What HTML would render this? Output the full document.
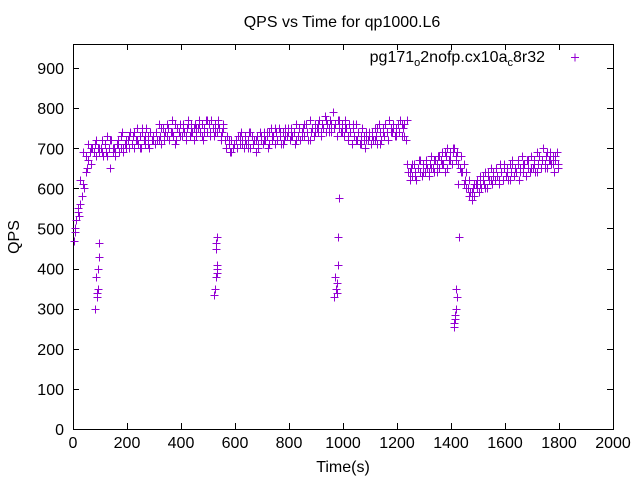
<!DOCTYPE html>
<html><head><meta charset="utf-8"><style>
html,body{margin:0;padding:0;background:#fff;}
svg{display:block;font-family:"Liberation Sans",sans-serif;}
</style></head><body>
<svg id="chart" width="640" height="480" viewBox="0 0 640 480">
<text x="342" y="27" font-size="16" text-anchor="middle">QPS vs Time for qp1000.L6</text>
<rect x="73.5" y="44.5" width="540" height="385" fill="none" stroke="#000" stroke-width="1"/>
<g id="ticks"></g>
<g id="points"></g>
<text transform="translate(19,237) rotate(-90)" font-size="16" text-anchor="middle">QPS</text>
<text x="343" y="472" font-size="16" text-anchor="middle">Time(s)</text>
<g>
<text x="545" y="62" font-size="16" text-anchor="end">pg171<tspan font-size="11" dy="4">o</tspan><tspan dy="-4">2nofp.cx10a</tspan><tspan font-size="11" dy="4">c</tspan><tspan dy="-4">8r32</tspan></text>
<path d="M571,57.5h8M575,53.5v8" stroke="#9400d3" stroke-width="1"/>
</g>
</svg>
<script>
const xTicks=[0,200,400,600,800,1000,1200,1400,1600,1800,2000];
const yTicks=[0,100,200,300,400,500,600,700,800,900];
const bandValues=[
470,500,520,540,530,560,580,610,600,640,
650,670,690,660,700,690,710,680,700,690,
700,720,680,710,690,730,700,650,720,690,
700,680,710,720,690,700,740,690,710,700,
720,700,740,710,730,700,720,750,710,730,
700,740,720,710,750,730,700,740,720,730,
710,740,720,760,730,710,750,720,740,730,
750,720,740,770,730,760,720,750,740,760,
730,760,740,720,750,770,730,760,740,750,
760,730,750,770,740,760,720,750,770,740,
760,740,770,750,730,760,740,770,750,730,
740,760,720,700,730,710,690,720,700,710,
720,700,730,710,740,720,700,730,710,720,
740,700,730,710,720,690,730,710,740,720,
710,740,720,730,700,740,750,720,730,710,
740,720,750,730,710,740,720,750,730,740,
720,750,730,740,710,760,730,750,720,740,
750,730,760,740,720,770,740,750,730,760,
750,740,770,730,760,750,780,740,760,750,
770,740,790,750,760,730,770,750,740,760,
730,770,750,720,760,740,710,750,730,760,
720,740,710,730,750,720,700,740,720,730,
710,740,720,750,730,710,760,740,720,750,
730,760,740,720,770,750,740,760,730,750,
760,740,770,730,750,760,720,660,640,620,
650,630,660,640,620,650,670,640,630,660,
640,670,650,630,660,680,650,640,670,660,
680,650,670,690,660,640,680,700,670,690,
660,690,700,670,690,610,650,680,640,660,
620,640,600,580,590,570,600,580,610,620,
590,630,600,620,610,640,600,630,620,650,
610,640,620,650,630,610,660,640,620,650,
630,650,620,660,640,670,630,650,640,660,
620,650,680,640,660,630,670,650,640,680,
650,670,640,690,660,680,650,670,700,660,
680,650,670,690,660,680,640,670,690,660];
const band2Values=[
490,550,620,690,680,710,700,690,720,700,
690,710,680,720,700,690,710,730,700,720,
730,710,740,720,700,750,730,710,740,720,
740,720,750,730,760,720,740,710,750,730,
750,730,760,740,720,750,760,730,740,770,
730,750,740,760,720,750,700,720,690,710,
700,730,710,720,700,740,710,720,700,730,
720,740,710,730,750,720,740,710,730,750,
730,740,720,750,730,760,740,720,750,740,
760,740,750,770,740,760,750,730,770,740,
750,730,740,760,720,740,710,730,720,740,
730,720,750,710,740,760,720,740,750,730,
740,760,730,770,640,660,630,650,670,640,
660,640,650,670,640,680,660,690,650,670,
700,680,660,640,610,600,620,590,610,600,
610,630,600,640,620,630,650,620,640,660,
640,620,660,650,670,640,660,630,670,650,
660,640,680,670,650,690,670,660,680,650];
const outlierTimes=[82,85,88,90,92,94,96,98,524,526,528,530,531,532,533,534,535,968,972,974,976,978,980,982,984,1410,1412,1414,1416,1418,1420,1424,1428];
const outlierValues=[300,380,340,330,350,400,430,465,335,350,465,450,380,390,400,410,480,330,380,350,340,365,410,480,575,255,265,275,285,300,350,330,480];
const X0=73,X1=613,Y0=429,Y1=44;
const xs=v=>X0+(v/2000)*(X1-X0);
const ys=v=>Y0-(v/960)*(Y0-Y1);
const NS="http://www.w3.org/2000/svg";
const tg=document.getElementById('ticks');
xTicks.forEach(t=>{
 const x=Math.round(xs(t))+0.5;
 const p=document.createElementNS(NS,'path');
 p.setAttribute('d',`M${x},${Y0}v-6M${x},${Y1}v6`);p.setAttribute('stroke','#000');
 
 
 tg.appendChild(p);
 const tx=document.createElementNS(NS,'text');
 tx.setAttribute('x',xs(t));tx.setAttribute('y',448);tx.setAttribute('font-size','16');tx.setAttribute('text-anchor','middle');
 tx.textContent=t;
 
 
 tg.appendChild(tx);
});
yTicks.forEach(t=>{
 const y=Math.round(ys(t))+0.5;
 const p=document.createElementNS(NS,'path');
 p.setAttribute('d',`M${X0},${y}h6M${X1},${y}h-6`);p.setAttribute('stroke','#000');
 
 
 tg.appendChild(p);
 const tx=document.createElementNS(NS,'text');
 tx.setAttribute('x',64);tx.setAttribute('y',ys(t)+6);tx.setAttribute('font-size','16');tx.setAttribute('text-anchor','end');
 tx.textContent=t;
 
 
 tg.appendChild(tx);
});
const pg=document.getElementById('points');
function plus(t,v){
 const x=Math.round(xs(t))+0.5,y=Math.round(ys(v))+0.5;
 const p=document.createElementNS(NS,'path');
 p.setAttribute('d',`M${x-4},${y}h8M${x},${y-4}v8`);
 p.setAttribute('stroke','#9400d3');p.setAttribute('fill','none');
 
 
 pg.appendChild(p);
}
bandValues.forEach((v,i)=>plus(2+i*5,v));
band2Values.forEach((v,i)=>plus(7+i*10,v));
outlierTimes.forEach((t,i)=>plus(t,outlierValues[i]));
</script>
</body></html>
